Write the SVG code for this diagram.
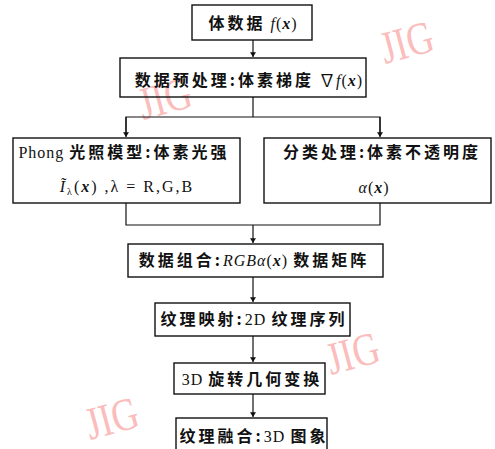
<svg xmlns="http://www.w3.org/2000/svg" width="495" height="449" viewBox="0 0 495 449">
<defs>
<style>
.box{fill:none;stroke:#111;stroke-width:1.4}
.ln{fill:none;stroke:#111;stroke-width:1.2}
.cn{font-family:"Liberation Serif","Noto Sans CJK SC",serif;font-size:16px;fill:#111;text-anchor:middle;letter-spacing:1px}
.c{font-family:"Noto Sans CJK SC",sans-serif;font-weight:bold;letter-spacing:3px}
.it{font-style:italic}
.bi{font-style:italic;font-weight:bold}
.wm{font-family:"Liberation Serif",serif;font-size:46px;fill:#fbbcbc}
</style>
<marker id="ah" viewBox="0 0 8 10" refX="8" refY="5" markerWidth="5" markerHeight="6" orient="auto" markerUnits="userSpaceOnUse">
<path d="M0,0 L8,5 L0,10 z" fill="#111"/>
</marker>
</defs>
<rect width="495" height="449" fill="#fff"/>
<g id="watermarks">
<text class="wm" transform="translate(385,64) rotate(-15) scale(0.8,1)">JIG</text>
<text class="wm" transform="translate(143,120) rotate(-15) scale(0.8,1)">JIG</text>
<text class="wm" transform="translate(331,375) rotate(-15) scale(0.8,1)">JIG</text>
<text class="wm" transform="translate(90,440) rotate(-15) scale(0.8,1)">JIG</text>
</g>
<g id="connectors">
<line class="ln" x1="253" y1="40" x2="253" y2="57" marker-end="url(#ah)"/>
<polyline class="ln" points="253,97 253,117"/>
<polyline class="ln" points="126,136 126,117 380,117 380,136"/>
<line class="ln" x1="126" y1="117" x2="126" y2="137" marker-end="url(#ah)"/>
<line class="ln" x1="380" y1="117" x2="380" y2="137" marker-end="url(#ah)"/>
<polyline class="ln" points="126,203 126,225 380,225 380,203"/>
<line class="ln" x1="253" y1="225" x2="253" y2="243" marker-end="url(#ah)"/>
<line class="ln" x1="253" y1="277" x2="253" y2="302" marker-end="url(#ah)"/>
<line class="ln" x1="253" y1="336" x2="253" y2="362" marker-end="url(#ah)"/>
<line class="ln" x1="253" y1="394" x2="253" y2="417" marker-end="url(#ah)"/>
</g>
<g id="n1">
<rect class="box" x="192" y="5" width="120" height="35"/>
<text class="cn" x="253" y="29"><tspan class="c">体数据</tspan> <tspan class="it">f</tspan>(<tspan class="bi">x</tspan>)</text>
</g>
<g id="n2">
<rect class="box" x="120" y="58" width="246" height="39"/>
<text class="cn" x="249" y="86"><tspan class="c">数据预处理:体素梯度</tspan> ∇<tspan class="it">f</tspan>(<tspan class="bi">x</tspan>)</text>
</g>
<g id="n3">
<rect class="box" x="13" y="138" width="227" height="65"/>
<text class="cn" x="124" y="158">Phong <tspan class="c">光照模型:体素光强</tspan></text>
<text class="cn" x="127" y="192" style="letter-spacing:2px"><tspan class="it">Ĩ</tspan><tspan font-size="10" dy="3">λ</tspan><tspan dy="-3">(</tspan><tspan class="bi">x</tspan>) ,λ = R,G,B</text>
</g>
<g id="n4">
<rect class="box" x="264" y="138" width="227" height="65"/>
<text class="cn" x="382" y="158"><tspan class="c">分类处理:体素不透明度</tspan></text>
<text class="cn" x="374" y="193"><tspan class="it">α</tspan>(<tspan class="bi">x</tspan>)</text>
</g>
<g id="n5">
<rect class="box" x="128" y="244" width="255" height="33"/>
<text class="cn" x="254" y="266"><tspan class="c">数据组合:</tspan><tspan class="it">RGBα</tspan>(<tspan class="bi">x</tspan>) <tspan class="c">数据矩阵</tspan></text>
</g>
<g id="n6">
<rect class="box" x="155" y="303" width="195" height="33"/>
<text class="cn" x="254" y="325"><tspan class="c">纹理映射:</tspan>2D <tspan class="c">纹理序列</tspan></text>
</g>
<g id="n7">
<rect class="box" x="174" y="363" width="151" height="31"/>
<text class="cn" x="252" y="385">3D <tspan class="c">旋转几何变换</tspan></text>
</g>
<g id="n8">
<rect class="box" x="176" y="418" width="151" height="40"/>
<text class="cn" x="254" y="442"><tspan class="c">纹理融合:</tspan>3D <tspan class="c">图象</tspan></text>
</g>
</svg>
